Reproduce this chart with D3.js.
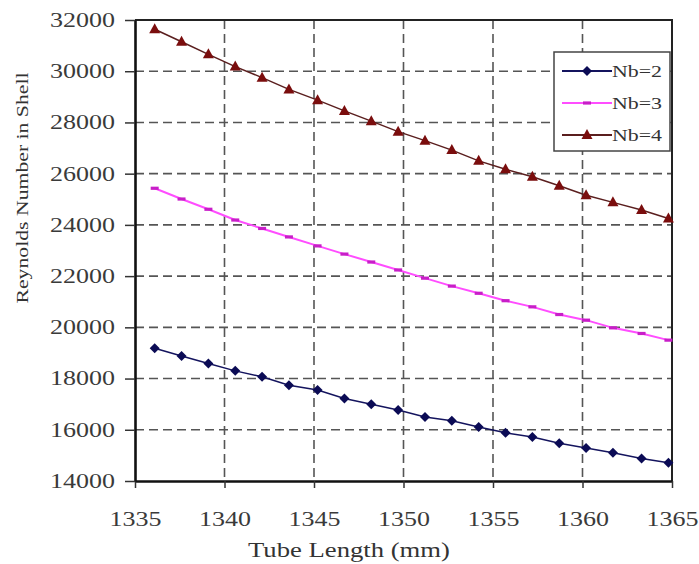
<!DOCTYPE html>
<html>
<head>
<meta charset="utf-8">
<script src="https://cdn.jsdelivr.net/npm/d3@7"></script>
<style>
  body { margin: 0; background: #fff; }
</style>
</head>
<body>
<div id="chart"></div>
<script>
let margin = { top: 20, right: 27, bottom: 83, left: 135 };
let exteriorWidth = 699, exteriorHeight = 564;
let interiorWidth = exteriorWidth - margin.left - margin.right,
    interiorHeight = exteriorHeight - margin.top - margin.bottom;

// data
let tubeLength = [1336.1, 1337.6, 1339.1, 1340.6, 1342.1, 1343.6, 1345.2, 1346.7, 1348.2, 1349.7,
                  1351.2, 1352.7, 1354.2, 1355.7, 1357.2, 1358.7, 1360.2, 1361.7, 1363.3, 1364.8];
let nb2 = [19180, 18880, 18590, 18300, 18070, 17740, 17550, 17220, 17000, 16770,
           16500, 16350, 16110, 15880, 15720, 15470, 15290, 15100, 14880, 14710];
let nb3 = [25430, 25010, 24610, 24190, 23860, 23530, 23180, 22860, 22550, 22240,
           21920, 21610, 21330, 21040, 20800, 20500, 20280, 19980, 19760, 19500];
let nb4 = [31640, 31150, 30660, 30180, 29750, 29290, 28870, 28450, 28050, 27640,
           27290, 26920, 26500, 26170, 25880, 25530, 25160, 24880, 24580, 24250];
let xTicks = [1335, 1340, 1345, 1350, 1355, 1360, 1365];
let yTicks = [14000, 16000, 18000, 20000, 22000, 24000, 26000, 28000, 30000, 32000];
let seriesNames = ["Nb=2", "Nb=3", "Nb=4"];

let series = [
  { name: seriesNames[0], values: nb2, line: "#14145e", marker: "#0b0b55", shape: "diamond" },
  { name: seriesNames[1], values: nb3, line: "#ff4dff", marker: "#c81ec8", shape: "dash" },
  { name: seriesNames[2], values: nb4, line: "#5a1e1e", marker: "#7a0d0d", shape: "triangle" }
];

let serif = "'Liberation Serif', 'DejaVu Serif', serif";

let svg = d3.select("#chart").append("svg")
    .attr("width", exteriorWidth)
    .attr("height", exteriorHeight)
    .attr("font-family", serif)
  .append("g")
    .attr("transform", translate(margin.left, margin.top));

let x = d3.scaleLinear().domain([1335, 1365]).range([0, interiorWidth]);
let y = d3.scaleLinear().domain([14000, 32000]).range([interiorHeight, 0]);

// grid
svg.append("g").selectAll("line")
    .data(yTicks.slice(1, -1))
  .enter().append("line")
    .attr("x1", 0).attr("x2", interiorWidth)
    .attr("y1", d => y(d)).attr("y2", d => y(d))
    .attr("stroke", "#555").attr("stroke-width", 1.6)
    .attr("stroke-dasharray", "9,5");

svg.append("g").selectAll("line")
    .data(xTicks.slice(1, -1))
  .enter().append("line")
    .attr("y1", 0).attr("y2", interiorHeight)
    .attr("x1", d => x(d)).attr("x2", d => x(d))
    .attr("stroke", "#555").attr("stroke-width", 1.6)
    .attr("stroke-dasharray", "9,5");

// frame top/right
svg.append("path")
    .attr("d", "M0,0H" + interiorWidth + "V" + interiorHeight)
    .attr("fill", "none").attr("stroke", "#222").attr("stroke-width", 2);

// axes
let xAxis = svg.append("g")
    .attr("transform", translate(0, interiorHeight))
    .call(d3.axisBottom(x).tickValues(xTicks).tickFormat(d3.format("d"))
            .tickSize(7).tickSizeOuter(0).tickPadding(24));
let yAxis = svg.append("g")
    .call(d3.axisLeft(y).tickValues(yTicks).tickFormat(d3.format("d"))
            .tickSize(10).tickSizeOuter(0).tickPadding(10));

[xAxis, yAxis].forEach(function(a) {
  a.attr("font-family", serif).attr("font-size", 20);
  a.select(".domain").attr("stroke", "#111").attr("stroke-width", 2.6);
  a.selectAll(".tick line").attr("stroke", "#333").attr("stroke-width", 1.5);
  a.selectAll(".tick text")
    .attr("font-family", serif)
    .attr("fill", "#3a3a3a")
    .attr("lengthAdjust", "spacingAndGlyphs")
    .attr("textLength", d => String(d).length * 13);
});

// lines
let line = d3.line().x((d, i) => x(tubeLength[i])).y(d => y(d));

series.forEach(function(s) {
  svg.append("path")
      .datum(s.values)
      .attr("fill", "none")
      .attr("stroke", s.line)
      .attr("stroke-width", s.shape === "dash" ? 2 : 1.5)
      .attr("d", line);

  svg.append("g").selectAll("path")
      .data(s.values)
    .enter().append("path")
      .attr("transform", (d, i) => translate(x(tubeLength[i]), y(d)))
      .attr("d", markerPath(s.shape))
      .attr("fill", s.marker);
});

// axis titles
svg.append("text")
    .attr("transform", translate(-113, 168) + " rotate(-90)")
    .attr("text-anchor", "middle")
    .attr("dy", "0.35em")
    .attr("font-family", serif)
    .attr("font-size", 17)
    .attr("fill", "#333")
    .attr("lengthAdjust", "spacingAndGlyphs")
    .attr("textLength", 231)
    .text("Reynolds Number in Shell");

svg.append("text")
    .attr("x", 214)
    .attr("y", 537)
    .attr("text-anchor", "middle")
    .attr("font-family", serif)
    .attr("font-size", 20)
    .attr("fill", "#333")
    .attr("lengthAdjust", "spacingAndGlyphs")
    .attr("textLength", 202)
    .text("Tube Length (mm)");

// legend
let legend = svg.append("g").attr("transform", translate(419, 32));
legend.append("rect")
    .attr("width", 116).attr("height", 99)
    .attr("fill", "#fff").attr("stroke", "#444").attr("stroke-width", 1.5);

series.forEach(function(s, i) {
  let g = legend.append("g").attr("transform", translate(0, 19 + i * 32));
  g.append("line")
      .attr("x1", 8).attr("x2", 58)
      .attr("stroke", s.line).attr("stroke-width", 2);
  g.append("path")
      .attr("transform", translate(33, 0))
      .attr("d", markerPath(s.shape))
      .attr("fill", s.marker);
  g.append("text")
      .attr("x", 58).attr("dy", "0.35em")
      .attr("font-family", serif)
      .attr("font-size", 16)
      .attr("fill", "#333")
      .attr("lengthAdjust", "spacingAndGlyphs")
      .attr("textLength", 50)
      .text(s.name);
});

function markerPath(shape) {
  if (shape === "diamond") return "M0,-5L5,0L0,5L-5,0Z";
  if (shape === "triangle") return "M0,-6L5.5,4L-5.5,4Z";
  return "M-4,-1.6H4V1.6H-4Z";
}

function translate(x, y = 0) {
  return "translate({x}, {y})"
          .replace("{x}", x)
          .replace("{y}", y);
}
</script>
</body>
</html>
